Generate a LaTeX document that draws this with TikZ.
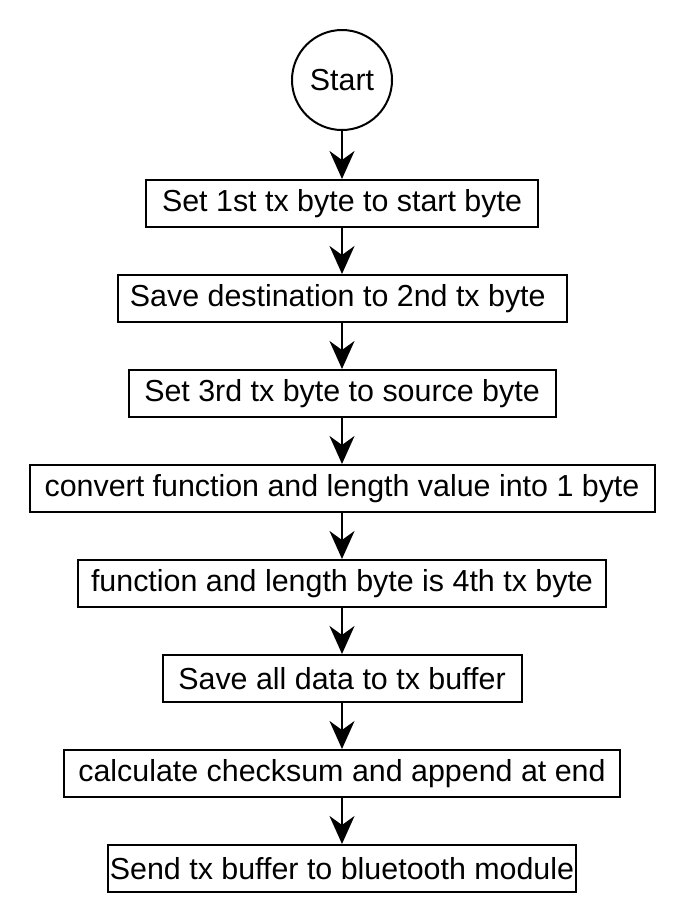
\documentclass[tikz,border=0pt]{standalone}
\usepackage{fontspec}
\setmainfont{Liberation Sans}
\usetikzlibrary{positioning, arrows.meta}

\begin{document}
\begin{tikzpicture}[
        node distance = 23pt,
        line width = 1pt,
        stepbox/.style = {draw, minimum height=23.5pt, inner sep=0pt, align=center, font=\fontsize{15.2}{18}\selectfont},
        startnode/.style = {draw, circle, minimum size=50pt, inner sep=0pt, font=\fontsize{15.2}{18}\selectfont},
        arrow/.style = {-{Stealth[length=14pt, width=12.5pt, inset=4.5pt]}},
    ]
        \useasboundingbox (0,0) rectangle (342.5pt,-461pt);
        \node[startnode] (start) at (171pt,-40pt) {Start};
        \node[stepbox, minimum width=196pt, below=24pt of start] (setfirst) {Set 1st tx byte to start byte};
        \node[stepbox, minimum width=224.5pt, below=of setfirst] (savedest) {Save destination to 2nd tx byte~};
        \node[stepbox, minimum width=213.5pt, below=of savedest] (setthird) {Set 3rd tx byte to source byte};
        \node[stepbox, minimum width=312.5pt, below=of setthird] (convert) {convert function and length value into 1 byte};
        \node[stepbox, minimum width=264pt, below=of convert] (fourth) {function and length byte is 4th tx byte};
        \node[stepbox, minimum width=179.5pt, below=of fourth] (savebuf) {Save all data to tx buffer};
        \node[stepbox, minimum width=278pt, below=of savebuf] (checksum) {calculate checksum and append at end};
        \node[stepbox, minimum width=234pt, below=of checksum] (send) {Send tx buffer to bluetooth module};
        \draw[arrow] (start) -- (setfirst);
        \draw[arrow] (setfirst) -- (savedest);
        \draw[arrow] (savedest) -- (setthird);
        \draw[arrow] (setthird) -- (convert);
        \draw[arrow] (convert) -- (fourth);
        \draw[arrow] (fourth) -- (savebuf);
        \draw[arrow] (savebuf) -- (checksum);
        \draw[arrow] (checksum) -- (send);
    \end{tikzpicture}
\end{document}
